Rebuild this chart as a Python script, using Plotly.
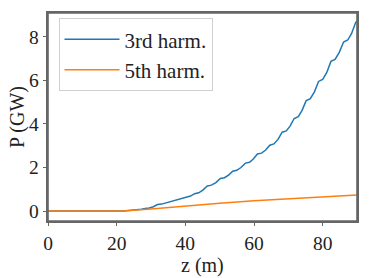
import plotly.graph_objects as go

# 3rd harmonic power (GW) vs z (m)
z3 = [0, 21.9, 25.0, 26.1, 27.2, 28.3, 29.5, 30.7, 31.9, 33.1, 34.3, 35.5, 36.7, 37.9,
      39.1, 40.3, 41.5, 42.7, 43.9, 45.1, 46.4, 47.6, 48.9, 50.2, 51.4, 52.6, 53.8,
      55.0, 56.2, 57.5, 58.7, 59.8, 61.0, 62.2, 63.4, 64.6, 65.8, 67.0, 68.2, 69.4,
      70.5, 71.7, 72.9, 74.0, 75.2, 76.4, 77.6, 78.8, 80.0, 81.2, 82.4, 83.6, 84.8,
      86.1, 87.3, 88.4, 89.6, 90.0]
p3 = [0, 0, 0.05, 0.06, 0.08, 0.12, 0.14, 0.20, 0.30, 0.32, 0.37, 0.45, 0.47, 0.52,
      0.60, 0.62, 0.69, 0.80, 0.84, 0.96, 1.15, 1.19, 1.31, 1.50, 1.53, 1.65, 1.83,
      1.87, 2.00, 2.20, 2.24, 2.39, 2.62, 2.66, 2.80, 3.02, 3.08, 3.29, 3.62, 3.68,
      3.90, 4.25, 4.33, 4.62, 5.07, 5.16, 5.47, 5.95, 6.04, 6.36, 6.87, 6.96, 7.27,
      7.76, 7.85, 8.14, 8.65, 8.72]

# 5th harmonic power (GW) vs z (m)
z5 = [0, 21.9, 30, 40, 50, 60, 70, 80, 90]
p5 = [0, 0, 0.10, 0.24, 0.36, 0.47, 0.56, 0.65, 0.74]

names = ["3rd harm.", "5th harm."]
colors = ["#1f77b4", "#ff7f0e"]

FONT = "Liberation Serif"
TXT = "#222222"
AX = "#666666"

fig = go.Figure()
fig.add_trace(go.Scatter(x=z3, y=p3, mode="lines", name=names[0],
                         line=dict(color=colors[0], width=1.5)))
fig.add_trace(go.Scatter(x=z5, y=p5, mode="lines", name=names[1],
                         line=dict(color=colors[1], width=1.5)))

axis_common = dict(showline=True, linecolor=AX, linewidth=1.6, mirror=True,
                   ticks="outside", ticklen=3.5, tickcolor=AX, tickwidth=1,
                   showgrid=False, zeroline=False,
                   tickfont=dict(family=FONT, size=19.5, color=TXT))

fig.update_layout(
    width=370, height=278,
    margin=dict(l=48, r=11, t=11, b=57),
    paper_bgcolor="white", plot_bgcolor="white",
    font=dict(family=FONT, size=20, color=TXT),
    xaxis=dict(range=[0, 90], tickvals=[0, 20, 40, 60, 80], **axis_common),
    yaxis=dict(range=[-0.455, 9.09], tickvals=[0, 2, 4, 6, 8], **axis_common),
    legend=dict(x=0.034, y=0.975, xanchor="left", yanchor="top", itemwidth=55,
                bgcolor="rgba(255,255,255,0.8)", bordercolor="#d0d0d0", borderwidth=1,
                font=dict(family=FONT, size=21, color=TXT)),
    showlegend=True,
    shapes=[dict(type="rect", xref="paper", yref="paper", x0=0, y0=0, x1=1, y1=1,
                 line=dict(color=AX, width=1.6), fillcolor="rgba(0,0,0,0)", layer="above")],
    annotations=[
        dict(text="z (m)", xref="paper", yref="paper", x=0.5, y=-0.215,
             xanchor="center", yanchor="middle", showarrow=False,
             font=dict(family=FONT, size=20, color=TXT)),
        dict(text="P (GW)", xref="paper", yref="paper", x=-0.1, y=0.5,
             textangle=-90, xanchor="center", yanchor="middle", showarrow=False,
             font=dict(family=FONT, size=20, color=TXT)),
    ],
)

fig.write_html("out.html", config={"displayModeBar": False},
               post_script="document.body.style.margin='0';document.body.style.overflow='hidden';")
